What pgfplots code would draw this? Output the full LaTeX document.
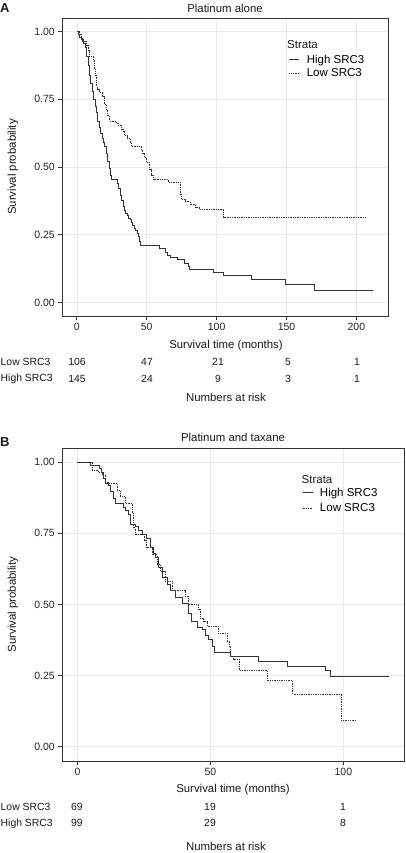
\documentclass[border=0pt]{standalone}
\usepackage{fontspec}
\setmainfont{Liberation Sans}
\usepackage{pgfplots}
\pgfplotsset{compat=1.18}
\definecolor{gridc}{gray}{0.92}
\definecolor{framec}{gray}{0.2}
\definecolor{curvec}{gray}{0.2}

\pgfplotstableread{
t S
0 1.00
1 0.99
2 0.98
3 0.97
4 0.965
5 0.955
6 0.94
7 0.91
8 0.875
9 0.84
10 0.81
11 0.78
12 0.75
13 0.725
14 0.70
15 0.67
16 0.645
17 0.625
18 0.605
19 0.59
20 0.575
21 0.55
22 0.52
23 0.495
24 0.47
25 0.455
29 0.44
30 0.42
31 0.395
32 0.375
33 0.355
34 0.34
35 0.33
36 0.32
37 0.31
38 0.305
39 0.295
40 0.285
41 0.275
42 0.265
43 0.255
44 0.245
45 0.225
45.5 0.21
59.3 0.20
63 0.185
64.5 0.175
67 0.165
72 0.16
77 0.146
79.5 0.134
80.7 0.122
98 0.112
105 0.100
125 0.085
149 0.068
170 0.045
212 0.045
}\AHigh

\pgfplotstableread{
t S
0 1.00
2 0.99
3 0.975
5 0.965
7 0.95
8 0.93
9 0.91
11.6 0.895
12.5 0.86
13 0.84
14 0.795
15 0.785
16.4 0.775
18.6 0.76
20 0.73
21 0.71
22 0.69
23.6 0.67
28 0.662
29.5 0.655
32 0.64
33 0.63
34.3 0.615
36 0.605
38 0.59
39 0.577
46 0.562
47 0.55
48.6 0.535
50 0.517
52 0.49
53 0.47
55 0.455
65.5 0.443
74 0.40
75 0.38
78 0.372
81 0.362
85 0.352
88 0.345
105 0.313
207 0.313
}\ALow

\pgfplotstableread{
t S
0 1.00
5 0.99
8.4 0.978
9 0.966
9.8 0.944
10.5 0.927
11.7 0.92
12.4 0.896
13.5 0.874
14.3 0.857
17.4 0.84
18 0.832
19.3 0.815
20 0.78
21.8 0.773
23 0.762
24.3 0.745
26 0.734
27.4 0.70
28.5 0.68
29.3 0.664
30.5 0.63
31.8 0.594
33.7 0.57
35 0.55
36.8 0.525
39.3 0.505
41.8 0.47
43 0.44
45 0.42
46.8 0.413
48 0.39
49.3 0.378
50.6 0.354
51.6 0.333
57.5 0.316
68 0.30
78.8 0.284
93.2 0.267
95 0.247
117 0.247
}\BHigh

\pgfplotstableread{
t S
0 1.00
5.5 0.972
8 0.965
9.3 0.955
10.5 0.93
11.8 0.927
14.9 0.90
16 0.88
18 0.857
20.6 0.82
21 0.77
21.8 0.745
25 0.727
26 0.70
28 0.675
30 0.64
31.2 0.617
33 0.582
35.6 0.549
40.6 0.53
41.8 0.50
45.6 0.483
46.2 0.453
47.5 0.44
48.7 0.424
53 0.40
56.3 0.371
57.3 0.354
57.5 0.319
58.8 0.307
61 0.268
71.5 0.232
81 0.185
99.2 0.094
104.5 0.094
}\BLow

\pgfplotsset{km/.style={
  scale only axis, clip=false,
  axis line style={framec, line width=0.9pt},
  grid=major, grid style={gridc, line width=0.6pt},
  tick align=outside, major tick length=3.7pt,
  tick style={framec, line width=0.8pt},
  xtick pos=lower, ytick pos=left,
  ymin=-0.05, ymax=1.05, ytick={0,0.25,0.5,0.75,1},
  yticklabel style={/pgf/number format/.cd, fixed, fixed zerofill, precision=2},
  /pgf/number format/assume math mode=true,
  ticklabel style={font=\fontsize{10.5}{12}\selectfont, text=black!85},
  legend style={draw=none, fill=none, font=\fontsize{11.5}{13}\selectfont, inner sep=0pt, cells={anchor=west}},
  legend image code/.code={\draw[##1] (0pt,0pt) -- (10pt,0pt); \path (15pt,0pt);},
  hi/.style={curvec, line width=0.75pt, const plot},
  lo/.style={curvec, line width=0.75pt, const plot, dash pattern=on 0.75pt off 1pt},
}}

\begin{document}
\begin{tikzpicture}[x=1pt,y=1pt]
\path[use as bounding box] (0,0) rectangle (405,-853);

% ---------- Panel A ----------
\begin{axis}[km, at={(62pt,-316pt)}, anchor=south west,
  width=326pt, height=298pt,
  xmin=-10.6, xmax=222.6, xtick={0,50,100,150,200},
  legend style={at={(0.696,0.837)}, anchor=west, row sep=0pt}]
\addplot[hi] table[x=t,y=S] {\AHigh};
\addlegendentry{High SRC3}
\addplot[lo] table[x=t,y=S] {\ALow};
\addlegendentry{Low SRC3}
\end{axis}

% ---------- Panel B ----------
\begin{axis}[km, at={(62pt,-761pt)}, anchor=south west,
  width=342pt, height=313pt,
  xmin=-5.8, xmax=122.8, xtick={0,50,100},
  legend style={at={(0.7018,0.832)}, anchor=west, row sep=2pt}]
\addplot[hi] table[x=t,y=S] {\BHigh};
\addlegendentry{High SRC3}
\addplot[lo] table[x=t,y=S] {\BLow};
\addlegendentry{Low SRC3}
\end{axis}

% ---------- texts ----------
\begin{scope}[every node/.style={inner sep=0pt, text=black!90}]
\def\lf{\fontsize{11.4}{13}\selectfont}
\def\sf{\fontsize{10.4}{12}\selectfont}
\node[anchor=west, font=\bfseries\fontsize{13}{15}\selectfont] at (0,-8.5) {A};
\node[font=\lf] at (225,-8) {Platinum alone};
\node[font=\lf, rotate=90] at (13,-167) {Survival probability};
\node[font=\fontsize{11.5}{13}\selectfont, anchor=west] at (287,-45) {Strata};
\node[font=\lf] at (226,-346) {Survival time (months)};
\node[font=\sf, anchor=west] at (0.5,-362) {Low SRC3};
\node[font=\sf, anchor=west] at (0.5,-379) {High SRC3};
\foreach \x/\v in {77/106,147/47,218/21,288/5,357/1} \node[font=\sf] at (\x,-362) {\v};
\foreach \x/\v in {77/145,147/24,218/9,288/3,357/1} \node[font=\sf] at (\x,-379) {\v};
\node[font=\lf] at (226,-397) {Numbers at risk};

\node[anchor=west, font=\bfseries\fontsize{13}{15}\selectfont] at (0,-442) {B};
\node[font=\lf] at (233,-437) {Platinum and taxane};
\node[font=\lf, rotate=90] at (13,-604.5) {Survival probability};
\node[font=\fontsize{11.5}{13}\selectfont, anchor=west] at (301.5,-479.3) {Strata};
\node[font=\lf] at (233,-790) {Survival time (months)};
\node[font=\sf, anchor=west] at (0.5,-807.3) {Low SRC3};
\node[font=\sf, anchor=west] at (0.5,-823.3) {High SRC3};
\foreach \x/\v in {77/69,210/19,343/1} \node[font=\sf] at (\x,-807.3) {\v};
\foreach \x/\v in {77/99,210/29,343/8} \node[font=\sf] at (\x,-823.3) {\v};
\node[font=\lf] at (226,-846) {Numbers at risk};
\end{scope}
\end{tikzpicture}
\end{document}
